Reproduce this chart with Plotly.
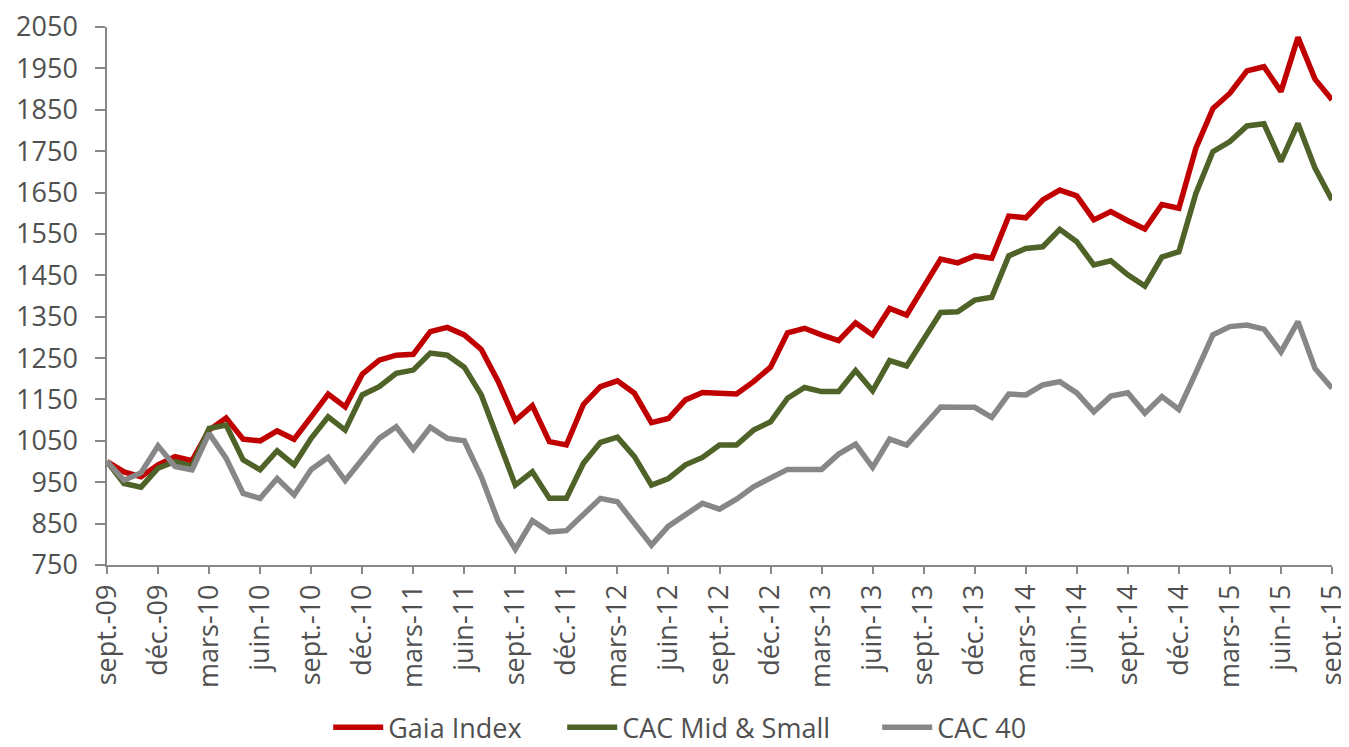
import plotly.graph_objects as go

tick_labels = ["sept.-09", "déc.-09", "mars-10", "juin-10", "sept.-10", "déc.-10",
               "mars-11", "juin-11", "sept.-11", "déc.-11", "mars-12", "juin-12",
               "sept.-12", "déc.-12", "mars-13", "juin-13", "sept.-13", "déc.-13",
               "mars-14", "juin-14", "sept.-14", "déc.-14", "mars-15", "juin-15",
               "sept.-15"]

gaia = [1000, 975, 963, 992, 1012, 1002, 1076, 1105, 1054, 1050,
        1074, 1054, 1108, 1163, 1132, 1211, 1245, 1257, 1259, 1314,
        1324, 1306, 1271, 1193, 1099, 1135, 1048, 1040, 1138, 1181,
        1195, 1165, 1094, 1104, 1149, 1167, 1165, 1163, 1193, 1228,
        1311, 1322, 1306, 1292, 1335, 1306, 1370, 1354, 1422, 1489,
        1480, 1497, 1491, 1593, 1589, 1632, 1656, 1642, 1584, 1604,
        1582, 1562, 1621, 1612, 1757, 1853, 1890, 1944, 1954, 1894,
        2025, 1924, 1874]

cac_mid_small = [1000, 947, 938, 984, 1000, 989, 1080, 1088, 1004, 980,
                 1026, 992, 1056, 1108, 1076, 1161, 1181, 1213, 1221, 1262,
                 1257, 1228, 1161, 1048, 943, 975, 911, 911, 996, 1046,
                 1059, 1012, 943, 959, 992, 1010, 1040, 1040, 1076, 1096,
                 1153, 1179, 1169, 1169, 1220, 1171, 1244, 1231, 1295, 1360,
                 1362, 1390, 1397, 1497, 1515, 1519, 1561, 1531, 1475, 1485,
                 1451, 1424, 1494, 1507, 1648, 1749, 1773, 1811, 1816, 1725,
                 1817, 1709, 1632]

cac40 = [1000, 955, 973, 1038, 988, 980, 1068, 1008, 923, 911,
         959, 919, 981, 1010, 954, 1005, 1056, 1084, 1030, 1083,
         1056, 1050, 963, 855, 788, 857, 830, 833, 871, 911,
         903, 851, 798, 844, 871, 899, 885, 909, 939, 959,
         981, 981, 981, 1018, 1042, 986, 1054, 1040, 1088, 1132,
         1131, 1131, 1107, 1163, 1161, 1185, 1193, 1166, 1120, 1158,
         1166, 1117, 1157, 1126, 1215, 1306, 1326, 1330, 1320, 1265,
         1338, 1225, 1177]

months = list(range(len(gaia)))
tick_pos = list(range(0, len(gaia), 3))

FONT = "'Open Sans', Lato, 'Liberation Sans', sans-serif"
TXT = "#505050"
AX = "#878787"

fig = go.Figure()
series = [("Gaia Index", gaia, "#C00000", 169),
          ("CAC Mid & Small", cac_mid_small, "#4F6228", 250),
          ("CAC 40", cac40, "#878787", 100)]
for name, vals, col, lw in series:
    fig.add_trace(go.Scatter(x=months, y=vals, name=name, mode="lines",
                             legendwidth=lw,
                             line=dict(color=col, width=5.5)))

# page body has an 8px margin, so the figure is 8px smaller than the window
fig.update_layout(
    width=1341, height=739,
    margin=dict(l=99, r=17, t=19, b=182, autoexpand=False),
    paper_bgcolor="white", plot_bgcolor="white",
    font=dict(family=FONT, size=27, color=TXT),
    showlegend=True,
    legend=dict(orientation="h", x=0.505, xanchor="center", xref="container",
                y=0.026, yanchor="middle", yref="container",
                itemwidth=50, tracegroupgap=0,
                font=dict(family=FONT, size=27, color=TXT), bgcolor="rgba(0,0,0,0)"),
)
fig.update_xaxes(range=[0, 72], tickmode="array", tickvals=tick_pos, ticktext=tick_labels,
                 tickangle=-90, showgrid=False, zeroline=False, automargin=False,
                 ticklabeloverflow="allow",
                 showline=True, linecolor=AX, linewidth=1.5,
                 ticks="outside", ticklen=7, tickcolor=AX, tickwidth=1.5,
                 tickfont=dict(family=FONT, size=27, color=TXT))
fig.update_yaxes(range=[750, 2050], tick0=750, dtick=100, showgrid=False, zeroline=False,
                 automargin=False, ticklabelstandoff=12, ticklabeloverflow="allow",
                 showline=True, linecolor=AX, linewidth=1.5,
                 ticks="outside", ticklen=10, tickcolor=AX, tickwidth=1.5,
                 tickfont=dict(family=FONT, size=27, color=TXT))

fig.write_html("out.html")
